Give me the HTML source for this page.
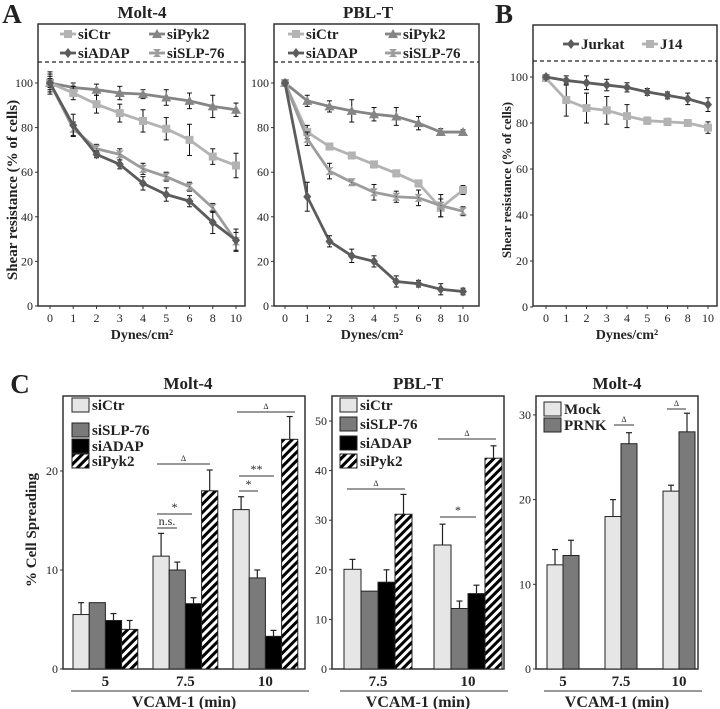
<!DOCTYPE html>
<html><head><meta charset="utf-8"><style>
html,body{margin:0;padding:0;background:#fff;}
svg{display:block;font-family:"Liberation Serif",serif;}
</style></head><body>
<svg id="fig" width="720" height="709" viewBox="0 0 720 709" xmlns="http://www.w3.org/2000/svg"></svg>
<script>
// ---------- data ----------
const dynes = ["0","1","2","3","4","5","6","8","10"];
const lineYTicks = [0,20,40,60,80,100];
// Panel A Molt-4
const molt_siCtr  = [100,95.5,90.5,86.5,83,79.5,74.5,67,63];
const molt_siCtrE = [2,3,4,4,5,5,7,3.5,5.5];
const molt_siPyk2 = [100,98,97,95.5,95,93.5,92,89.5,88];
const molt_siPyk2E= [3,2,2.5,3,2,3.5,3.5,5,3];
const molt_siADAP = [100,81,68,63.5,55,50,47,37.5,29.5];
const molt_siADAPE= [4,5,1.5,2,3,3,2.5,5,5];
const molt_siSLP  = [100,79.5,70.5,68,61.5,58,53.5,44,29];
const molt_siSLPE = [5,3,2,2.5,2.5,2,2,2,4];
// Panel A PBL-T
const pbl_siCtr  = [100,78,71.5,67.5,63.5,59.5,55,44,52];
const pbl_siCtrE = [1,3,1.5,1.5,1.5,1.5,1.5,4,2];
const pbl_siPyk2 = [100,92,89.5,87.5,86,85,82,78,78];
const pbl_siPyk2E= [1,2.5,2.5,5,3,4,3,1.5,1];
const pbl_siADAP = [100,49,29,22.5,20,11,10,7.5,6.5];
const pbl_siADAPE= [1,6.5,2.5,3,2.5,2.5,1.5,2.5,1.5];
const pbl_siSLP  = [100,75,60.5,55.5,51,49,48.5,45,42.5];
const pbl_siSLPE = [1,3,3.5,1,3.5,2.5,3.5,5,2];
// Panel B
const b_jurkat  = [100,98.5,97.5,96.5,95.5,93.5,92,90.5,88];
const b_jurkatE = [1,2,3,2.5,2,1.5,1.5,2.5,3];
const b_j14     = [99.5,90,86.5,85.5,83,81,80.5,80,78];
const b_j14E    = [1,7,6.5,6,5,1.5,1.5,1.5,2.5];
// Panel C
const c1Groups = ["5","7.5","10"];
const c1_siCtr  = [5.5,11.4,16.1];  const c1_siCtrE=[1.2,2.3,1.3];
const c1_siSLP  = [6.7,10,9.2];     const c1_siSLPE=[0,0.8,0.8];
const c1_siADAP = [4.9,6.6,3.3];    const c1_siADAPE=[0.7,0.6,0.6];
const c1_siPyk2 = [4,18,23.2];      const c1_siPyk2E=[0.9,2.1,2.3];
const c1Ticks = [0,10,20];
const c2Groups = ["7.5","10"];
const c2_siCtr  = [20.1,25];   const c2_siCtrE=[2,4.2];
const c2_siSLP  = [15.7,12.2]; const c2_siSLPE=[0,1.5];
const c2_siADAP = [17.5,15.2]; const c2_siADAPE=[2.5,1.7];
const c2_siPyk2 = [31.2,42.5]; const c2_siPyk2E=[4,2.5];
const c2Ticks = [0,10,20,30,40,50];
const c3Groups = ["5","7.5","10"];
const c3_mock = [12.3,18,21];   const c3_mockE=[1.8,2,0.7];
const c3_prnk = [13.4,26.6,28]; const c3_prnkE=[1.8,1.3,2.2];
const c3Ticks = [0,10,20,30];

// ---------- helpers ----------
const NS="http://www.w3.org/2000/svg";
const svg=document.getElementById('fig');
function mk(tag,attrs,parent,txt){const e=document.createElementNS(NS,tag);for(const k in attrs)e.setAttribute(k,attrs[k]);if(txt!==undefined)e.textContent=txt;(parent||svg).appendChild(e);return e;}

function txt(x,y,s,size,weight,anchor,name,rot){
  const t=mk('text',{x:x,y:y,'font-size':size,'font-weight':weight,'text-anchor':anchor||'middle',fill:'#222'},svg,s);
  if(rot)t.setAttribute('transform','rotate(-90 '+x+' '+y+')');
  
  
  return t;
}
function box(x0,y0,x1,y1,name){
  const r=mk('rect',{x:x0,y:y0,width:x1-x0,height:y1-y0,fill:'none',stroke:'#333','stroke-width':1.5});
  
  
}
function marker(g,shape,x,y,col){
  if(shape==='sq')mk('rect',{x:x-4,y:y-4,width:8,height:8,fill:col},g);
  else if(shape==='tri')mk('polygon',{points:`${x},${y-5} ${x+5},${y+4} ${x-5},${y+4}`,fill:col},g);
  else if(shape==='dia')mk('polygon',{points:`${x},${y-5} ${x+4},${y} ${x},${y+5} ${x-4},${y}`,fill:col},g);
  else {mk('polygon',{points:`${x-4},${y-4} ${x+4},${y-4} ${x},${y} `,fill:col},g);mk('polygon',{points:`${x-4},${y+4} ${x+4},${y+4} ${x},${y}`,fill:col},g);}
}
function linePanel(p){
  const xs=i=>p.x0+i*(p.x1-p.x0)/(dynes.length-1);
  const ys=v=>p.yb+(p.y100-p.yb)*v/100;
  box(p.bx0,p.by0,p.bx1,p.by1,p.id+'-plot-frame');
  const d=mk('line',{x1:p.bx0,x2:p.bx1,y1:p.dash,y2:p.dash,stroke:'#222','stroke-dasharray':'4,3','stroke-width':1.2});
  
  
  lineYTicks.forEach(v=>{mk('line',{x1:p.bx0-3,x2:p.bx0,y1:ys(v),y2:ys(v),stroke:'#333'});
    txt(p.bx0-5,ys(v)+4,String(v),12,'normal','end',p.id+'-y-tick-'+v);});
  dynes.forEach((c,i)=>{mk('line',{x1:xs(i),x2:xs(i),y1:p.by1,y2:p.by1+3,stroke:'#333'});
    txt(xs(i),p.by1+16,c,12,'normal','middle',p.id+'-x-tick-'+c);});
  p.series.forEach(s=>{
    const g=mk('g',{});
    
    
    mk('polyline',{points:s.v.map((v,i)=>xs(i)+','+ys(v)).join(' '),fill:'none',stroke:s.col,'stroke-width':2.8},g);
    s.v.forEach((v,i)=>{const x=xs(i),e=s.e[i];
      mk('line',{x1:x,x2:x,y1:ys(v-e),y2:ys(v+e),stroke:'#111','stroke-width':1},g);
      mk('line',{x1:x-2.5,x2:x+2.5,y1:ys(v-e),y2:ys(v-e),stroke:'#111'},g);
      mk('line',{x1:x-2.5,x2:x+2.5,y1:ys(v+e),y2:ys(v+e),stroke:'#111'},g);
      marker(g,s.shape,x,ys(v),s.col);});
  });
}
function legendLine(x,y,col,shape,label,name){
  const g=mk('g',{});
  
  
  mk('line',{x1:x,x2:x+16,y1:y,y2:y,stroke:col,'stroke-width':2.8},g);
  marker(g,shape,x+8,y,col);
  mk('text',{x:x+18,y:y+5,'font-size':15,'font-weight':'bold',fill:'#222'},g,label);
}
const C_CTR='#b3b3b3',C_PYK='#858585',C_ADAP='#5c5c5c',C_SLP='#9c9c9c';

// ---------- Panel A ----------
txt(12,23,'A',27,'bold','middle','panel-label-a');
txt(142,18,'Molt-4',17,'bold','middle','molt4-line-title');
txt(368,18,'PBL-T',17,'bold','middle','pblt-line-title');
txt(17,190,'Shear resistance (% of cells)',15,'bold','middle','a-y-axis-title',true);
linePanel({id:'a-molt4',bx0:38,by0:24,bx1:245,by1:306,x0:50,x1:236,yb:306,y100:83,dash:62,series:[
 {name:'siPyk2',v:molt_siPyk2,e:molt_siPyk2E,col:C_PYK,shape:'tri'},
 {name:'siCtr',v:molt_siCtr,e:molt_siCtrE,col:C_CTR,shape:'sq'},
 {name:'siSLP-76',v:molt_siSLP,e:molt_siSLPE,col:C_SLP,shape:'star'},
 {name:'siADAP',v:molt_siADAP,e:molt_siADAPE,col:C_ADAP,shape:'dia'}]});
linePanel({id:'a-pblt',bx0:274,by0:24,bx1:479,by1:306,x0:285,x1:463,yb:306,y100:83,dash:62,series:[
 {name:'siPyk2',v:pbl_siPyk2,e:pbl_siPyk2E,col:C_PYK,shape:'tri'},
 {name:'siCtr',v:pbl_siCtr,e:pbl_siCtrE,col:C_CTR,shape:'sq'},
 {name:'siSLP-76',v:pbl_siSLP,e:pbl_siSLPE,col:C_SLP,shape:'star'},
 {name:'siADAP',v:pbl_siADAP,e:pbl_siADAPE,col:C_ADAP,shape:'dia'}]});
txt(142,339,'Dynes/cm²',14,'bold','middle','a-molt4-x-axis-title');
txt(372,339,'Dynes/cm²',14,'bold','middle','a-pblt-x-axis-title');
legendLine(60,34,C_CTR,'sq','siCtr','legend-entry-molt4-sictr');
legendLine(149,34,C_PYK,'tri','siPyk2','legend-entry-molt4-sipyk2');
legendLine(60,53,C_ADAP,'dia','siADAP','legend-entry-molt4-siadap');
legendLine(149,53,C_SLP,'star','siSLP-76','legend-entry-molt4-sislp76');
legendLine(288,34,C_CTR,'sq','siCtr','legend-entry-pblt-sictr');
legendLine(385,34,C_PYK,'tri','siPyk2','legend-entry-pblt-sipyk2');
legendLine(288,53,C_ADAP,'dia','siADAP','legend-entry-pblt-siadap');
legendLine(385,53,C_SLP,'star','siSLP-76','legend-entry-pblt-sislp76');

// ---------- Panel B ----------
txt(504,23,'B',27,'bold','middle','panel-label-b');
txt(511,180,'Shear resistance (% of cells)',13,'bold','middle','b-y-axis-title',true);
linePanel({id:'b',bx0:533,by0:25,bx1:717,by1:306,x0:546,x1:708,yb:307,y100:77,dash:61,series:[
 {name:'J14',v:b_j14,e:b_j14E,col:C_CTR,shape:'sq'},
 {name:'Jurkat',v:b_jurkat,e:b_jurkatE,col:C_ADAP,shape:'dia'}]});
txt(627,339,'Dynes/cm²',14,'bold','middle','b-x-axis-title');
legendLine(563,44,C_ADAP,'dia','Jurkat','legend-entry-jurkat');
legendLine(642,44,C_CTR,'sq','J14','legend-entry-j14');

// ---------- Panel C ----------
txt(20,393,'C',27,'bold','middle','panel-label-c');
txt(36,530,'% Cell Spreading',15,'bold','middle','c-y-axis-title',true);
const hatch=mk('pattern',{id:'hatch',patternUnits:'userSpaceOnUse',width:6,height:6,patternTransform:'rotate(45)'},mk('defs',{}));
mk('rect',{width:6,height:6,fill:'#fff'},hatch);
mk('rect',{width:3,height:6,fill:'#000'},hatch);
const FILLS={siCtr:'#e6e6e6',siSLP:'#7a7a7a',siADAP:'#000',siPyk2:'url(#hatch)',Mock:'#e6e6e6',PRNK:'#7a7a7a'};

function barPanel(p){
  const ys=v=>p.yb-(v*p.unit);
  box(p.bx0,p.by0,p.bx1,p.yb,p.id+'-plot-frame');
  p.ticks.forEach(v=>{mk('line',{x1:p.bx0-3,x2:p.bx0,y1:ys(v),y2:ys(v),stroke:'#333'});
    txt(p.bx0-5,ys(v)+4,String(v),12,'normal','end',p.id+'-y-tick-'+v);});
  p.groups.forEach((gname,gi)=>{
    const gx=p.gx0+gi*p.gstep;
    txt(gx+p.series.length*p.bw/2,p.yb+17,gname,15,'bold','middle',p.id+'-x-label-'+gname);
    p.series.forEach((s,si)=>{
      const x=gx+si*p.bw,v=s.v[gi],e=s.e[gi];
      const g=mk('g',{});
      
      
      mk('rect',{x:x,y:ys(v),width:p.bw,height:v*p.unit,fill:FILLS[s.name],stroke:'#222','stroke-width':1},g);
      if(e>0){const cx=x+p.bw/2;
        mk('line',{x1:cx,x2:cx,y1:ys(v),y2:ys(v+e),stroke:'#222','stroke-width':1.2},g);
        mk('line',{x1:cx-3,x2:cx+3,y1:ys(v+e),y2:ys(v+e),stroke:'#222','stroke-width':1.2},g);}
    });
  });
  const l=mk('line',{x1:p.bx0+8,x2:p.bx1+4,y1:p.yb+22,y2:p.yb+22,stroke:'#333'});
  
  
  txt((p.bx0+p.bx1)/2,p.yb+38,'VCAM-1 (min)',16,'bold','middle',p.id+'-x-axis-title');
}
function sig(x0,x1,y,label,name){
  const g=mk('g',{});
  
  
  mk('line',{x1:x0,x2:x1,y1:y,y2:y,stroke:'#333','stroke-width':1},g);
  mk('text',{x:(x0+x1)/2,y:y-3,'font-size':label==='Δ'?8:12,'text-anchor':'middle',fill:'#222'},g,label);
}
function legendBox(x,y,name,label,dn){
  const g=mk('g',{});
  
  
  mk('rect',{x:x,y:y,width:17,height:14,fill:FILLS[name],stroke:'#222'},g);
  mk('text',{x:x+20,y:y+12,'font-size':15,'font-weight':'bold',fill:'#222'},g,label);
}

txt(188,389,'Molt-4',17,'bold','middle','c-molt4-title');
barPanel({id:'c-molt4',bx0:63,by0:396,bx1:305,yb:669,unit:9.9,ticks:c1Ticks,groups:c1Groups,gx0:73,gstep:80,bw:16.2,series:[
 {name:'siCtr',v:c1_siCtr,e:c1_siCtrE},{name:'siSLP',v:c1_siSLP,e:c1_siSLPE},
 {name:'siADAP',v:c1_siADAP,e:c1_siADAPE},{name:'siPyk2',v:c1_siPyk2,e:c1_siPyk2E}]});
legendBox(72,398,'siCtr','siCtr','legend-entry-c-molt4-sictr');
legendBox(72,423,'siSLP','siSLP-76','legend-entry-c-molt4-sislp76');
legendBox(72,439,'siADAP','siADAP','legend-entry-c-molt4-siadap');
legendBox(72,454,'siPyk2','siPyk2','legend-entry-c-molt4-sipyk2');
sig(157,210,464,'Δ','sig-molt4-7.5-delta');
sig(157,192,514,'*','sig-molt4-7.5-star');
sig(157,177,528,'n.s.','sig-molt4-7.5-ns');
sig(237,295,412,'Δ','sig-molt4-10-delta');
sig(239,274,476,'**','sig-molt4-10-doublestar');
sig(239,258,491,'*','sig-molt4-10-star');

txt(418,389,'PBL-T',17,'bold','middle','c-pblt-title');
barPanel({id:'c-pblt',bx0:332,by0:396,bx1:504,yb:669,unit:4.96,ticks:c2Ticks,groups:c2Groups,gx0:344,gstep:90,bw:17,series:[
 {name:'siCtr',v:c2_siCtr,e:c2_siCtrE},{name:'siSLP',v:c2_siSLP,e:c2_siSLPE},
 {name:'siADAP',v:c2_siADAP,e:c2_siADAPE},{name:'siPyk2',v:c2_siPyk2,e:c2_siPyk2E}]});
legendBox(340,398,'siCtr','siCtr','legend-entry-c-pblt-sictr');
legendBox(340,417,'siSLP','siSLP-76','legend-entry-c-pblt-sislp76');
legendBox(340,436,'siADAP','siADAP','legend-entry-c-pblt-siadap');
legendBox(340,454,'siPyk2','siPyk2','legend-entry-c-pblt-sipyk2');
sig(347,405,489,'Δ','sig-pblt-7.5-delta');
sig(438,496,439,'Δ','sig-pblt-10-delta');
sig(440,476,517,'*','sig-pblt-10-star');

txt(617,389,'Molt-4',17,'bold','middle','c-molt4-prnk-title');
barPanel({id:'c-molt4-prnk',bx0:536,by0:396,bx1:698,yb:669,unit:8.47,ticks:c3Ticks,groups:c3Groups,gx0:547,gstep:58,bw:16,series:[
 {name:'Mock',v:c3_mock,e:c3_mockE},{name:'PRNK',v:c3_prnk,e:c3_prnkE}]});
legendBox(544,402,'Mock','Mock','legend-entry-mock');
legendBox(544,418,'PRNK','PRNK','legend-entry-prnk');
sig(614,634,425,'Δ','sig-prnk-7.5-delta');
sig(667,686,409,'Δ','sig-prnk-10-delta');
</script>
</body></html>
